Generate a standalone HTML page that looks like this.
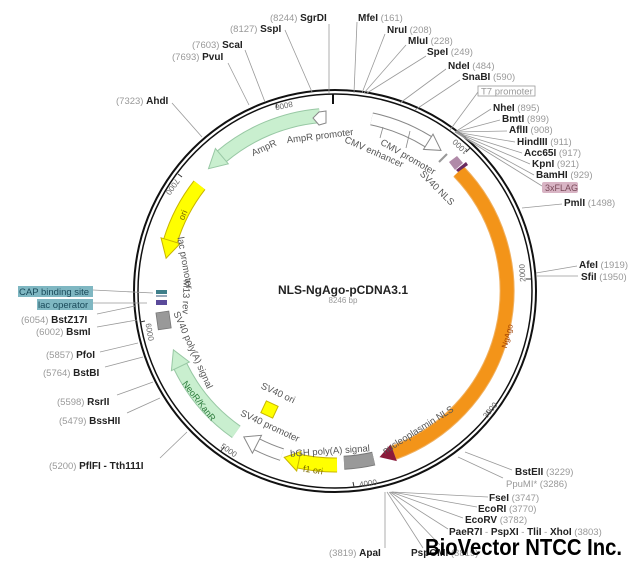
<!DOCTYPE html>
<html><head><meta charset="utf-8"><style>
html,body{margin:0;padding:0;background:#fff;}
svg{display:block;font-family:"Liberation Sans",sans-serif;}
.n{fill:#999;font-size:9.5px;}
.b{fill:#222;font-size:10px;font-weight:bold;}
.f{fill:#555;font-size:9.5px;}
.t{fill:#666;font-size:8px;}
.l{stroke:#999;stroke-width:0.8;fill:none;}
</style></head><body>
<svg width="640" height="578" viewBox="0 0 640 578">
<rect width="640" height="578" fill="#fff"/>
<circle cx="335" cy="291" r="201" fill="none" stroke="#111" stroke-width="2"/>
<circle cx="335" cy="291" r="197" fill="none" stroke="#111" stroke-width="1.5"/>
<line x1="333" y1="94" x2="333" y2="104" stroke="#111" stroke-width="2"/>

<g stroke="#333" stroke-width="1">
<line x1="470" y1="148" x2="466" y2="152"/>
<line x1="531" y1="279" x2="526" y2="279"/>
<line x1="490" y1="414" x2="486" y2="411"/>
<line x1="354" y1="487" x2="353" y2="482"/>
<line x1="221" y1="451" x2="224" y2="447"/>
<line x1="140" y1="322" x2="145" y2="321"/>
<line x1="178" y1="174" x2="182" y2="177"/>
<line x1="276" y1="103" x2="277" y2="108"/>
</g>
<g class="t">
<text x="460" y="150" transform="rotate(-136 460 147)" text-anchor="middle">1000</text>
<text x="522" y="276" transform="rotate(-93 522 273)" text-anchor="middle">2000</text>
<text x="490" y="413" transform="rotate(-50 490 410)" text-anchor="middle">3000</text>
<text x="368" y="486" transform="rotate(-8 368 483)" text-anchor="middle">4000</text>
<text x="229" y="453" transform="rotate(35 229 450)" text-anchor="middle">5000</text>
<text x="150" y="335" transform="rotate(80 150 332)" text-anchor="middle">6000</text>
<text x="173" y="190" transform="rotate(125 173 187)" text-anchor="middle">7000</text>
<text x="284" y="109" transform="rotate(168 284 106)" text-anchor="middle">8000</text>
</g>

<path d="M458.7,171.5 A172,172 0 0 1 393.8,452.7" fill="none" stroke="#f0b060" stroke-width="15"/>
<path d="M458.7,171.5 A172,172 0 0 1 393.8,452.7" fill="none" stroke="#f39419" stroke-width="13"/>
<polygon points="396.9,461.1 390.7,444.2 379.5,457.1" fill="#8b1a3a"/>
<polygon points="449,162 457,156 463,163 455,170" fill="#b08aa8"/>
<polygon points="456,170 466,162 468,165 458,172" fill="#6a2a60"/>
<line x1="439" y1="162" x2="447" y2="154" stroke="#999" stroke-width="2"/>

<path d="M371.6,118.9 A176,176 0 0 1 428.3,141.7" fill="none" stroke="#888" stroke-width="13"/>
<path d="M371.6,118.9 A176,176 0 0 1 428.3,141.7" fill="none" stroke="#fff" stroke-width="11"/>
<polygon points="433,134.1 441,150.4 423.5,149.4" fill="#fff" stroke="#888" stroke-width="1"/>
<line x1="380" y1="138" x2="383" y2="127" stroke="#888" stroke-width="0.8"/>
<line x1="406" y1="148" x2="410" y2="131" stroke="#888" stroke-width="0.8"/>

<path d="M319.7,115.7 A176,176 0 0 0 221.9,156.2" fill="none" stroke="#98c8a4" stroke-width="15"/>
<path d="M319.7,115.7 A176,176 0 0 0 221.9,156.2" fill="none" stroke="#c9efcf" stroke-width="13"/>
<polygon points="215.4,148.5 208.5,168.7 228.3,163.8" fill="#c9efcf" stroke="#98c8a4" stroke-width="1"/>
<polygon points="326,111 319,112 313,118 319,125 326,123" fill="#fff" stroke="#888" stroke-width="1"/>

<path d="M199.5,185.1 A172,172 0 0 0 170.5,240.7" fill="none" stroke="#c8b400" stroke-width="15"/>
<path d="M199.5,185.1 A172,172 0 0 0 170.5,240.7" fill="none" stroke="#ffff00" stroke-width="13"/>
<polygon points="161,237.8 166.1,258.2 180.1,243.6" fill="#ffff00" stroke="#c8b400" stroke-width="1"/>

<rect x="156" y="290" width="11" height="4" fill="#3e7f8a"/>
<rect x="156" y="295" width="11" height="2" fill="#9ab"/>
<rect x="156" y="300" width="11" height="5" fill="#5a4a9a"/>
<rect x="157" y="312" width="13" height="17" fill="#999" stroke="#777" stroke-width="0.8" transform="rotate(-8 163 320)"/>

<path d="M180.4,366.3 A172,172 0 0 0 236.3,431.9" fill="none" stroke="#98c8a4" stroke-width="15"/>
<path d="M180.4,366.3 A172,172 0 0 0 236.3,431.9" fill="none" stroke="#c9efcf" stroke-width="13"/>
<polygon points="171.4,370.7 173.4,349.8 189.4,362" fill="#c9efcf" stroke="#98c8a4" stroke-width="1"/>

<path d="M281.9,454.6 A172,172 0 0 1 256.9,444.3" fill="none" stroke="#888" stroke-width="13"/>
<path d="M281.9,454.6 A172,172 0 0 1 256.9,444.3" fill="none" stroke="#fff" stroke-width="11"/>
<polygon points="252.4,453.2 243.8,436.9 261.5,435.3" fill="#fff" stroke="#888" stroke-width="1"/>

<rect x="263" y="403" width="13" height="13" fill="#ffff00" stroke="#c8b400" stroke-width="1" transform="rotate(25 269.5 409.5)"/>

<path d="M337,465 A174,174 0 0 1 298.8,461.2" fill="none" stroke="#c8b400" stroke-width="15"/>
<path d="M337,465 A174,174 0 0 1 298.8,461.2" fill="none" stroke="#ffff00" stroke-width="13"/>
<polygon points="296.7,471 284.2,457.4 300.9,451.4" fill="#ffff00" stroke="#c8b400" stroke-width="1"/>

<path d="M373.7,458.6 A172,172 0 0 1 344,462.8" fill="none" stroke="#777" stroke-width="14"/>
<path d="M373.7,458.6 A172,172 0 0 1 344,462.8" fill="none" stroke="#999" stroke-width="12"/>

<g class="f">
<text x="320" y="139" text-anchor="middle" transform="rotate(-7 320 136)">AmpR promoter</text>
<text x="264" y="151" text-anchor="middle" transform="rotate(-25 264 148)">AmpR</text>
<text x="408" y="160" text-anchor="middle" transform="rotate(30 408 157)">CMV promoter</text>
<text x="374" y="155" text-anchor="middle" transform="rotate(24 374 152)">CMV enhancer</text>
<text x="437" y="191" text-anchor="middle" transform="rotate(45 437 188)">SV40 NLS</text>
<text x="185" y="266" text-anchor="middle" transform="rotate(80 185 263)">lac promoter</text>
<text x="186" y="300" text-anchor="middle" transform="rotate(92 186 297)">M13 rev</text>
<text x="193" y="353" text-anchor="middle" transform="rotate(66 193 350)">SV40 poly(A) signal</text>
<text x="278" y="396" text-anchor="middle" transform="rotate(25 278 393)">SV40 ori</text>
<text x="270" y="429" text-anchor="middle" transform="rotate(25 270 426)">SV40 promoter</text>
<text x="330" y="454" text-anchor="middle" transform="rotate(-4 330 451)">bGH poly(A) signal</text>
<text x="418" y="433" text-anchor="middle" transform="rotate(-32 418 430)">nucleoplasmin NLS</text>
</g>
<text x="183" y="218" font-size="9" fill="#7a6a00" text-anchor="middle" transform="rotate(-68 183 215)">ori</text>
<text x="199" y="404" font-size="9" fill="#2a7a3a" text-anchor="middle" transform="rotate(52 199 401)">NeoR/KanR</text>
<text x="313" y="473" font-size="9" fill="#7a6a00" text-anchor="middle" transform="rotate(8 313 470)">f1 ori</text>
<text x="507" y="339" font-size="8" fill="#a04000" text-anchor="middle" transform="rotate(-75 507 336)">NgAgo</text>

<text x="343" y="294" font-size="12" font-weight="bold" fill="#222" text-anchor="middle">NLS-NgAgo-pCDNA3.1</text>
<text x="343" y="303" font-size="8" fill="#999" text-anchor="middle">8246 bp</text>

<g class="l">
<line x1="329" y1="24" x2="329" y2="93"/>
<line x1="285" y1="30" x2="312" y2="92"/>
<line x1="245" y1="50" x2="265" y2="102"/>
<line x1="228" y1="63" x2="249" y2="105"/>
<line x1="172" y1="103" x2="202" y2="137"/>
<line x1="357" y1="22" x2="354" y2="93"/>
<line x1="385" y1="34" x2="362" y2="93"/>
<line x1="406" y1="45" x2="364" y2="93"/>
<line x1="426" y1="56" x2="367" y2="93"/>
<line x1="446" y1="69" x2="400" y2="103"/>
<line x1="460" y1="80" x2="415" y2="110"/>
<line x1="478" y1="92" x2="450" y2="130"/>
<line x1="491" y1="109" x2="455" y2="132"/>
<line x1="500" y1="120" x2="455" y2="132"/>
<line x1="507" y1="131" x2="455" y2="132"/>
<line x1="515" y1="142" x2="455" y2="132"/>
<line x1="522" y1="153" x2="455" y2="132"/>
<line x1="530" y1="164" x2="455" y2="132"/>
<line x1="534" y1="175" x2="455" y2="132"/>
<line x1="542" y1="186" x2="455" y2="132"/>
<line x1="562" y1="204" x2="522" y2="208"/>
<line x1="577" y1="266" x2="536" y2="273"/>
<line x1="578" y1="276" x2="536" y2="276"/>
<line x1="93" y1="290" x2="153" y2="293"/>
<line x1="93" y1="303" x2="147" y2="303"/>
<line x1="97" y1="314" x2="135" y2="306"/>
<line x1="97" y1="327" x2="137" y2="320"/>
<line x1="100" y1="352" x2="138" y2="343"/>
<line x1="105" y1="367" x2="143" y2="357"/>
<line x1="117" y1="395" x2="153" y2="382"/>
<line x1="127" y1="413" x2="160" y2="398"/>
<line x1="160" y1="458" x2="187" y2="432"/>
<line x1="512" y1="470" x2="465" y2="452"/>
<line x1="503" y1="478" x2="458" y2="457"/>
<line x1="488" y1="497" x2="392" y2="492"/>
<line x1="477" y1="507" x2="392" y2="492"/>
<line x1="463" y1="518" x2="391" y2="492"/>
<line x1="448" y1="529" x2="390" y2="492"/>
<line x1="385" y1="548" x2="385" y2="492"/>
<line x1="423" y1="548" x2="387" y2="492"/>
<line x1="440" y1="545" x2="389" y2="492"/>
</g>

<text x="270" y="21"><tspan class="n">(8244) </tspan><tspan class="b">SgrDI</tspan></text>
<text x="230" y="32"><tspan class="n">(8127) </tspan><tspan class="b">SspI</tspan></text>
<text x="192" y="48"><tspan class="n">(7603) </tspan><tspan class="b">ScaI</tspan></text>
<text x="172" y="60"><tspan class="n">(7693) </tspan><tspan class="b">PvuI</tspan></text>
<text x="116" y="104"><tspan class="n">(7323) </tspan><tspan class="b">AhdI</tspan></text>
<text x="358" y="21"><tspan class="b">MfeI</tspan><tspan class="n"> (161)</tspan></text>
<text x="387" y="33"><tspan class="b">NruI</tspan><tspan class="n"> (208)</tspan></text>
<text x="408" y="44"><tspan class="b">MluI</tspan><tspan class="n"> (228)</tspan></text>
<text x="427" y="55"><tspan class="b">SpeI</tspan><tspan class="n"> (249)</tspan></text>
<text x="448" y="69"><tspan class="b">NdeI</tspan><tspan class="n"> (484)</tspan></text>
<text x="462" y="80"><tspan class="b">SnaBI</tspan><tspan class="n"> (590)</tspan></text>
<rect x="478" y="86" width="57" height="10" fill="#fff" stroke="#999" stroke-width="0.8"/>
<text x="481" y="94.5" class="n" font-size="9">T7 promoter</text>
<text x="493" y="111"><tspan class="b">NheI</tspan><tspan class="n"> (895)</tspan></text>
<text x="502" y="122"><tspan class="b">BmtI</tspan><tspan class="n"> (899)</tspan></text>
<text x="509" y="133"><tspan class="b">AflII</tspan><tspan class="n"> (908)</tspan></text>
<text x="517" y="145"><tspan class="b">HindIII</tspan><tspan class="n"> (911)</tspan></text>
<text x="524" y="156"><tspan class="b">Acc65I</tspan><tspan class="n"> (917)</tspan></text>
<text x="532" y="167"><tspan class="b">KpnI</tspan><tspan class="n"> (921)</tspan></text>
<text x="536" y="178"><tspan class="b">BamHI</tspan><tspan class="n"> (929)</tspan></text>
<rect x="542" y="182" width="36" height="11" rx="2" fill="#d8b4c4"/>
<text x="545" y="191" font-size="9" fill="#7a4a5a">3xFLAG</text>
<text x="564" y="206"><tspan class="b">PmlI</tspan><tspan class="n"> (1498)</tspan></text>
<text x="579" y="268"><tspan class="b">AfeI</tspan><tspan class="n"> (1919)</tspan></text>
<text x="581" y="280"><tspan class="b">SfiI</tspan><tspan class="n"> (1950)</tspan></text>

<rect x="18" y="286" width="75" height="11" fill="#7fb7c2"/>
<text x="19" y="295" font-size="9.5" fill="#1a4a5a">CAP binding site</text>
<rect x="37" y="299" width="56" height="11" fill="#7fb7c2"/>
<text x="38" y="308" font-size="9.5" fill="#1a4a5a">lac operator</text>
<text x="21" y="323"><tspan class="n">(6054) </tspan><tspan class="b">BstZ17I</tspan></text>
<text x="36" y="335"><tspan class="n">(6002) </tspan><tspan class="b">BsmI</tspan></text>
<text x="46" y="358"><tspan class="n">(5857) </tspan><tspan class="b">PfoI</tspan></text>
<text x="43" y="376"><tspan class="n">(5764) </tspan><tspan class="b">BstBI</tspan></text>
<text x="57" y="405"><tspan class="n">(5598) </tspan><tspan class="b">RsrII</tspan></text>
<text x="59" y="424"><tspan class="n">(5479) </tspan><tspan class="b">BssHII</tspan></text>
<text x="49" y="469"><tspan class="n">(5200) </tspan><tspan class="b">PflFI - Tth111I</tspan></text>

<text x="515" y="475"><tspan class="b">BstEII</tspan><tspan class="n"> (3229)</tspan></text>
<text x="506" y="487"><tspan class="n">PpuMI* (3286)</tspan></text>
<text x="489" y="501"><tspan class="b">FseI</tspan><tspan class="n"> (3747)</tspan></text>
<text x="478" y="512"><tspan class="b">EcoRI</tspan><tspan class="n"> (3770)</tspan></text>
<text x="465" y="523"><tspan class="b">EcoRV</tspan><tspan class="n"> (3782)</tspan></text>
<text x="449" y="535"><tspan class="b">PaeR7I</tspan><tspan class="n"> - </tspan><tspan class="b">PspXI</tspan><tspan class="n"> - </tspan><tspan class="b">TliI</tspan><tspan class="n"> - </tspan><tspan class="b">XhoI</tspan><tspan class="n"> (3803)</tspan></text>
<text x="329" y="556"><tspan class="n">(3819) </tspan><tspan class="b">ApaI</tspan></text>
<text x="411" y="556"><tspan class="b">PspOMI</tspan><tspan class="n"> (3819)</tspan></text>

<text x="425" y="555" font-size="23" font-weight="bold" fill="#000" textLength="197" lengthAdjust="spacingAndGlyphs">BioVector NTCC Inc.</text>
</svg>
</body></html>
